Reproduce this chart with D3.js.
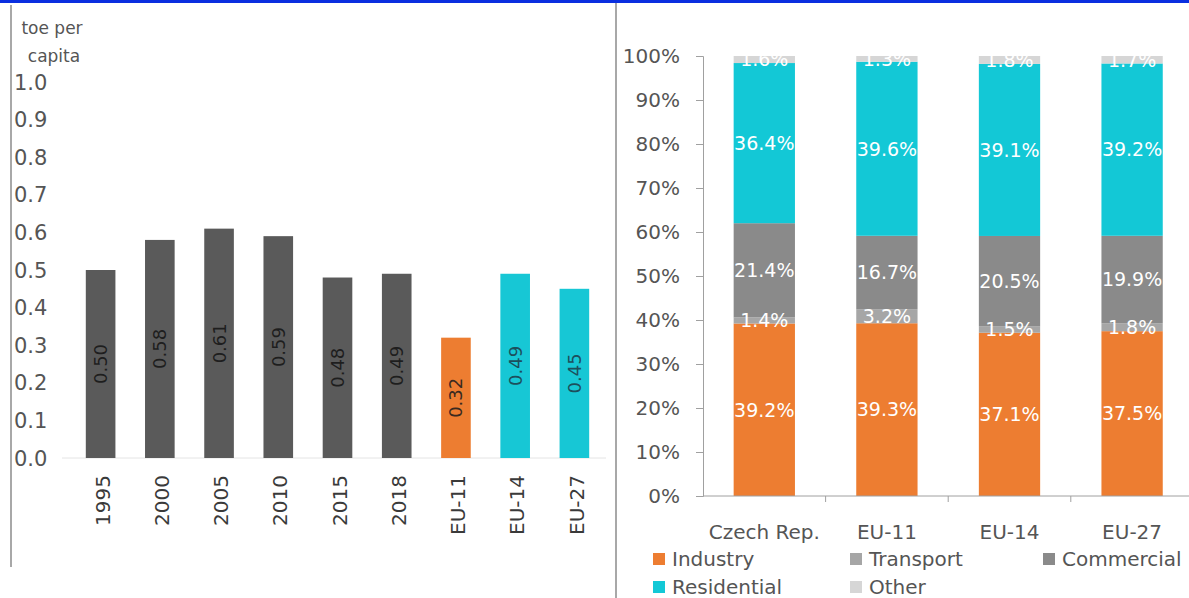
<!DOCTYPE html>
<html>
<head>
<meta charset="utf-8">
<script src="https://cdn.jsdelivr.net/npm/d3@7"></script>
<style>
  body { margin: 0; background: #fff; }
  svg { display: block; font-family: "DejaVu Sans", sans-serif; }
</style>
</head>
<body>
<div id="chart"></div>
<script>
// left chart: final energy consumption per capita
const periods = ["1995", "2000", "2005", "2010", "2015", "2018", "EU-11", "EU-14", "EU-27"];
const toePerCapita = [0.50, 0.58, 0.61, 0.59, 0.48, 0.49, 0.32, 0.49, 0.45];
const toeTicks = [0, 0.1, 0.2, 0.3, 0.4, 0.5, 0.6, 0.7, 0.8, 0.9, 1.0];

// right chart: structure by sector (%)
const regions = ["Czech Rep.", "EU-11", "EU-14", "EU-27"];
const sectors = ["Industry", "Transport", "Commercial", "Residential", "Other"];
const industry = [39.2, 39.3, 37.1, 37.5];
const transport = [1.4, 3.2, 1.5, 1.8];
const commercial = [21.4, 16.7, 20.5, 19.9];
const residential = [36.4, 39.6, 39.1, 39.2];
const other = [1.6, 1.3, 1.8, 1.7];
const pctTicks = [0, 0.1, 0.2, 0.3, 0.4, 0.5, 0.6, 0.7, 0.8, 0.9, 1.0];

const W = 1189, H = 598;
const svg = d3.select("#chart").append("svg")
  .attr("width", W).attr("height", H);

// frame bits
svg.append("rect").attr("x", 0).attr("y", 0).attr("width", W).attr("height", 3).attr("fill", "#0a2fe0");
svg.append("line").attr("x1", 11).attr("x2", 11).attr("y1", 5).attr("y2", 567)
  .attr("stroke", "#a8a8a8").attr("stroke-width", 2);
svg.append("line").attr("x1", 616).attr("x2", 616).attr("y1", 3).attr("y2", H)
  .attr("stroke", "#a8a8a8").attr("stroke-width", 2);

// ---------- left chart ----------
const x1 = d3.scaleBand().domain(periods).range([71, 604]).paddingInner(0.5).paddingOuter(0.25);
const y1 = d3.scaleLinear().domain([0, 1]).range([458, 82]);

const barColor = p => p === "EU-11" ? "#ed7d31" : (p.startsWith("EU") ? "#17c7d5" : "#5a5a5a");
const labColor = p => p === "EU-11" ? "#3a2a20" : (p.startsWith("EU") ? "#1d4f5c" : "#1e1e1e");

svg.append("line").attr("x1", 62).attr("x2", 606).attr("y1", y1(0)).attr("y2", y1(0))
  .attr("stroke", "#e4e4e4");

svg.append("text").attr("x", 52).attr("y", 34).attr("text-anchor", "middle")
  .attr("font-size", 17).attr("fill", "#555").text("toe per");
svg.append("text").attr("x", 54).attr("y", 62).attr("text-anchor", "middle")
  .attr("font-size", 17).attr("fill", "#555").text("capita");

svg.append("g").selectAll("text").data(toeTicks).join("text")
  .attr("x", 14).attr("y", d => y1(d)).attr("dy", "0.36em")
  .attr("font-size", 21).attr("fill", "#555")
  .text(d => d3.format(".1f")(d));

svg.append("g").selectAll("rect").data(periods).join("rect")
  .attr("x", d => x1(d)).attr("width", x1.bandwidth())
  .attr("y", (d, i) => y1(toePerCapita[i]))
  .attr("height", (d, i) => y1(0) - y1(toePerCapita[i]))
  .attr("fill", d => barColor(d));

svg.append("g").selectAll("text").data(periods).join("text")
  .attr("transform", (d, i) => `translate(${x1(d) + x1.bandwidth() / 2},${(y1(0) + y1(toePerCapita[i])) / 2}) rotate(-90)`)
  .attr("text-anchor", "middle").attr("dy", "0.36em")
  .attr("font-size", 18).attr("fill", d => labColor(d))
  .text((d, i) => d3.format(".2f")(toePerCapita[i]));

svg.append("g").selectAll("text").data(periods).join("text")
  .attr("transform", d => `translate(${x1(d) + x1.bandwidth() / 2 + 2},475) rotate(-90)`)
  .attr("text-anchor", "end").attr("dy", "0.36em")
  .attr("font-size", 20).attr("fill", "#3a3a3a")
  .text(d => d);

// ---------- right chart ----------
const table = regions.map((r, i) => ({
  region: r, Industry: industry[i], Transport: transport[i], Commercial: commercial[i],
  Residential: residential[i], Other: other[i]
}));
const stack = d3.stack().keys(sectors).offset(d3.stackOffsetExpand)(table);

const x2 = d3.scaleBand().domain(regions).range([703, 1193.4]).paddingInner(0.5).paddingOuter(0.25);
const y2 = d3.scaleLinear().domain([0, 1]).range([496, 56]);
const color2 = d3.scaleOrdinal().domain(sectors)
  .range(["#ed7d31", "#a6a6a6", "#8a8a8a", "#13c8d6", "#d6d6d6"]);

const layers = svg.append("g").selectAll("g").data(stack).join("g")
  .attr("fill", d => color2(d.key));
layers.selectAll("rect").data(d => d).join("rect")
  .attr("x", d => x2(d.data.region)).attr("width", x2.bandwidth())
  .attr("y", d => y2(d[1])).attr("height", d => y2(d[0]) - y2(d[1]));

const labels = svg.append("g").selectAll("g").data(stack).join("g");
labels.selectAll("text").data(d => d.map(v => ({ v, key: d.key }))).join("text")
  .attr("x", d => x2(d.v.data.region) + x2.bandwidth() / 2)
  .attr("y", d => y2((d.v[0] + d.v[1]) / 2)).attr("dy", "0.36em")
  .attr("text-anchor", "middle").attr("font-size", 19).attr("fill", "#fff")
  .text(d => d3.format(".1f")(d.v.data[d.key]) + "%");

// axes
const yAxis = svg.append("g").attr("transform", "translate(703,0)")
  .call(d3.axisLeft(y2).tickValues(pctTicks).tickSize(7).tickPadding(16).tickFormat(d3.format(".0%")));
yAxis.select(".domain").attr("stroke", "#a0a0a0");
yAxis.selectAll(".tick line").attr("stroke", "#a0a0a0");
yAxis.selectAll(".tick text").attr("font-size", 20).attr("fill", "#555")
  .attr("font-family", "DejaVu Sans");

svg.append("line").attr("x1", 703).attr("x2", W).attr("y1", y2(0)).attr("y2", y2(0))
  .attr("stroke", "#a0a0a0");
svg.append("g").selectAll("line").data(regions.slice(1)).join("line")
  .attr("x1", d => x2(d) - x2.step() * 0.25).attr("x2", d => x2(d) - x2.step() * 0.25)
  .attr("y1", y2(0)).attr("y2", y2(0) + 6).attr("stroke", "#a0a0a0");

svg.append("g").selectAll("text").data(regions).join("text")
  .attr("x", d => x2(d) + x2.bandwidth() / 2).attr("y", 539)
  .attr("text-anchor", "middle").attr("font-size", 20).attr("fill", "#555")
  .text(d => d);

// legend
const legX = [653, 850, 1043];
const legY = [566, 594];
const leg = svg.append("g").selectAll("g").data(sectors).join("g")
  .attr("transform", (d, i) => `translate(${legX[i % 3]},${legY[Math.floor(i / 3)]})`);
leg.append("rect").attr("x", 0).attr("y", -13).attr("width", 12).attr("height", 12)
  .attr("fill", d => color2(d));
leg.append("text").attr("x", 19).attr("y", 0).attr("font-size", 20).attr("fill", "#555")
  .text(d => d);
</script>
</body>
</html>
